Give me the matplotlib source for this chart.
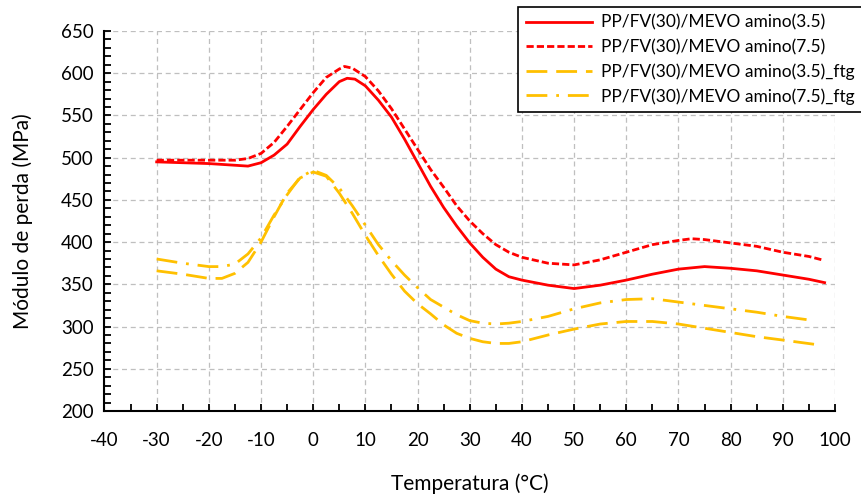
import numpy as np
import matplotlib.pyplot as plt
from matplotlib.ticker import MultipleLocator

plt.rcParams['font.family'] = ['Lato', 'DejaVu Sans']
plt.rcParams['axes.unicode_minus'] = False

# series (temperature in °C, loss modulus in MPa)
temp_35 = [-30, -25, -20, -15, -12.5, -10, -7.5, -5, -2.5, 0, 2.5, 5, 6.5, 8, 10, 12.5, 15, 17.5,
           20, 22.5, 25, 27.5, 30, 32.5, 35, 37.5, 40, 45, 50, 55, 60, 65, 70, 75, 80, 85, 90, 95, 98]
mod_35 = [495, 494, 493, 491, 490, 494, 503, 516, 537, 557, 575, 590, 594, 593, 585, 568, 548, 522,
          494, 466, 441, 419, 399, 382, 368, 359, 355, 349, 345, 349, 355, 362, 368, 371, 369, 366, 361, 356, 352]

temp_75 = [-30, -25, -20, -15, -12.5, -10, -7.5, -5, -2.5, 0, 2.5, 5, 6, 7.5, 10, 12.5, 15, 17.5,
           20, 22.5, 25, 27.5, 30, 32.5, 35, 37.5, 40, 45, 50, 55, 60, 65, 70, 72.5, 75, 80, 85, 90, 95, 97.5]
mod_75 = [497, 497, 497, 497, 499, 505, 518, 537, 557, 577, 595, 605, 608, 606, 596, 579, 558, 534,
          510, 486, 465, 443, 425, 410, 397, 388, 382, 375, 373, 379, 388, 397, 402, 404, 403, 399, 395, 388, 383, 379]

temp_35f = [-30, -25, -20, -17.5, -15, -12.5, -10, -7.5, -5, -2.5, 0, 2.5, 5, 7.5, 10, 12.5, 15, 17.5,
            20, 22.5, 25, 27.5, 30, 32.5, 35, 37.5, 40, 45, 50, 55, 60, 65, 70, 75, 80, 85, 90, 96]
mod_35f = [366, 362, 357, 357, 363, 376, 400, 430, 458, 476, 483, 478, 458, 434, 408, 384, 362, 342,
           327, 315, 302, 292, 286, 282, 280, 280, 282, 290, 297, 303, 306, 306, 303, 298, 293, 288, 284, 279]

temp_75f = [-30, -25, -20, -17.5, -15, -12.5, -10, -7.5, -5, -2.5, 0, 2.5, 5, 7.5, 10, 12.5, 15, 17.5,
            20, 22.5, 25, 27.5, 30, 32.5, 35, 37.5, 40, 45, 50, 55, 60, 65, 70, 75, 80, 85, 90, 96]
mod_75f = [380, 375, 371, 371, 374, 386, 405, 432, 456, 477, 485, 479, 464, 443, 420, 397, 378, 361,
           346, 332, 323, 314, 307, 304, 303, 304, 306, 312, 321, 328, 332, 333, 329, 325, 321, 317, 312, 307]

labels = ['PP/FV(30)/MEVO amino(3.5)', 'PP/FV(30)/MEVO amino(7.5)',
          'PP/FV(30)/MEVO amino(3.5)_ftg', 'PP/FV(30)/MEVO amino(7.5)_ftg']

red = '#FF0000'
gold = '#FFC000'

fig = plt.figure(figsize=(8.62, 4.95), dpi=100)
ax = fig.add_axes([0.1212, 0.1697, 0.8475, 0.7677])

lw = 2.0
ax.plot(temp_35, mod_35, color=red, lw=lw, label=labels[0])
ax.plot(temp_75, mod_75, color=red, lw=lw, linestyle=(0, (2.6, 1.1)), label=labels[1])
ax.plot(temp_35f, mod_35f, color=gold, lw=lw, linestyle=(0, (7.5, 3.2)), label=labels[2])
ax.plot(temp_75f, mod_75f, color=gold, lw=lw, linestyle=(0, (7.5, 3.2, 1, 3.2)), label=labels[3])

ax.set_xlim(-40, 100)
ax.set_ylim(200, 650)
ax.xaxis.set_major_locator(MultipleLocator(10))
ax.xaxis.set_minor_locator(MultipleLocator(5))
ax.yaxis.set_major_locator(MultipleLocator(50))
ax.yaxis.set_minor_locator(MultipleLocator(10))

ax.grid(True, which='major', color='#BFBFBF', linestyle=(0, (4, 3)), linewidth=0.9)
ax.set_axisbelow(True)
for side in ['top', 'right']:
    ax.spines[side].set_visible(False)
for side in ['left', 'bottom']:
    ax.spines[side].set_linewidth(1.5)
ax.tick_params(which='both', direction='in', width=1.3, length=5, labelsize=13.5, colors='black')
ax.tick_params(axis='x', which='major', pad=15)
ax.tick_params(axis='y', which='major', pad=8)

ax.set_xlabel('Temperatura (°C)', fontsize=15, labelpad=18)
ax.set_ylabel('Módulo de perda (MPa)', fontsize=15, labelpad=20)

leg = ax.legend(loc='upper right', bbox_to_anchor=(1.037, 1.062), fontsize=12.5, frameon=True,
                fancybox=False, edgecolor='black', handlelength=3.8, handletextpad=0.55,
                labelspacing=0.47, borderpad=0.42, borderaxespad=0)
leg.get_frame().set_linewidth(1.2)
leg.get_frame().set_alpha(1)

fig.savefig('out.png', dpi=100)
